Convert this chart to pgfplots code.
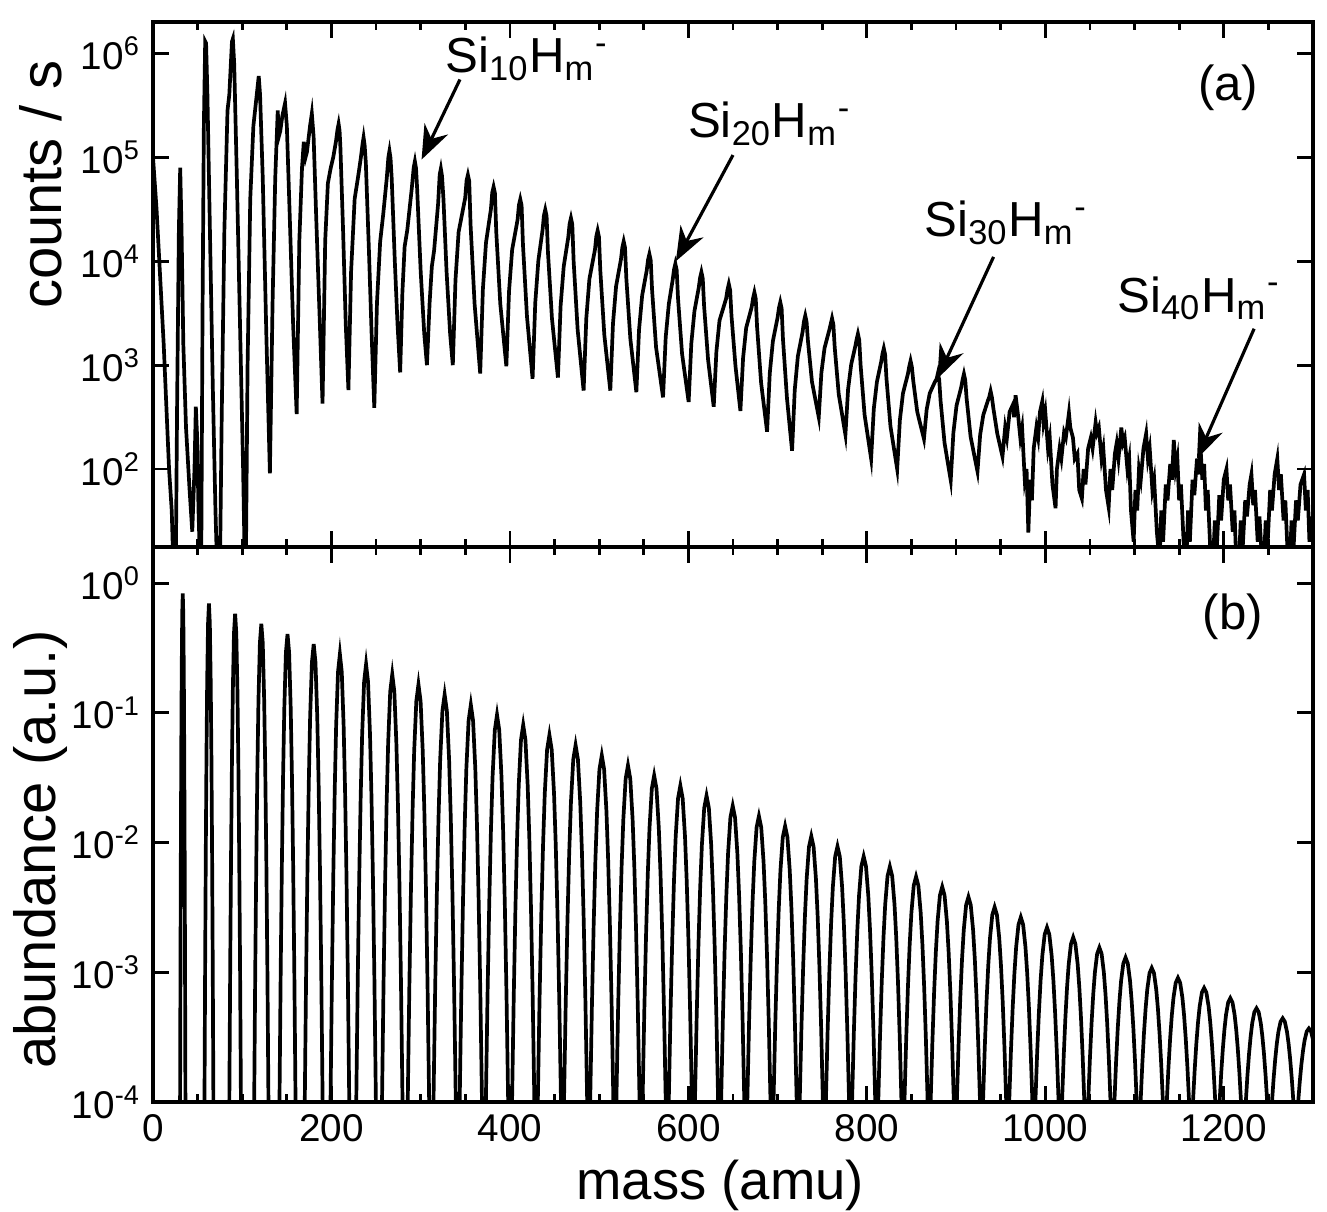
\documentclass[border=0pt]{standalone}
\usepackage{fontspec}
\setmainfont{Liberation Sans}
\usepackage{pgfplots}
\pgfplotsset{compat=1.18}
\usetikzlibrary{arrows.meta}

\begin{document}
\begin{tikzpicture}

% ---------------- (b) abundance ----------------
\begin{axis}[name=bot,
    width=11.6cm, height=5.55cm, scale only axis,
    xmin=0, xmax=1300, ymode=log,
    ymin=1e-4, ymax=1.9,
    axis line style={line width=0.9pt},
    xtick={0,200,...,1200},
    minor xtick={50,100,...,1300},
    tick align=inside,
    major tick length=1.6mm, minor tick length=0.8mm,
    tick style={line width=0.8pt, black},
    minor y tick style={draw=none},
    tick label style={font=\fontsize{11}{13}\selectfont},
    ytick={1e-4,1e-3,1e-2,1e-1,1},
    yticklabels={10\textsuperscript{-4},10\textsuperscript{-3},10\textsuperscript{-2},10\textsuperscript{-1},10\textsuperscript{0}},
    xticklabels={0,200,400,600,800,1000,1200},
    xlabel={mass (amu)},
    xlabel style={at={(rel axis cs:0.489,-0.15)}, anchor=center, font=\fontsize{15.5}{18}\selectfont},
    ylabel={abundance (a.u.)},
    ylabel style={at={(rel axis cs:-0.097,0.455)}, anchor=center, font=\fontsize{16.5}{19}\selectfont},
]
\addplot[line width=1.05pt] coordinates {
(0,1e-4)
(30.35,1e-4) (30.8,1.22e-3) (31.25,1.0e-2) (31.7,0.0543) (32.15,0.197) (32.75,0.581) (33.35,0.834) (33.95,0.581) (34.55,0.197) (35.0,0.0543) (35.45,1.0e-2) (35.9,1.22e-3) (36.35,1e-4)
(57.7,1e-4) (58.45,1.16e-3) (59.2,9.12e-3) (59.95,0.0479) (60.7,0.169) (61.7,0.489) (62.7,0.697) (63.7,0.489) (64.7,0.169) (65.45,0.0479) (66.2,9.12e-3) (66.95,1.16e-3) (67.7,1e-4)
(85.55,1e-4) (86.53,1.11e-3) (87.5,8.32e-3) (88.48,0.0423) (89.45,0.1455) (90.75,0.411) (92.05,0.582) (93.35,0.411) (94.65,0.1455) (95.63,0.0423) (96.6,8.32e-3) (97.58,1.11e-3) (98.55,1e-4)
(113.4,1e-4) (114.6,1.05e-3) (115.8,7.59e-3) (117.0,0.0373) (118.2,0.125) (119.8,0.347) (121.4,0.486) (123.0,0.347) (124.6,0.125) (125.8,0.0373) (127.0,7.59e-3) (128.2,1.05e-3) (129.4,1e-4)
(141.75,1e-4) (143.1,1.00e-3) (144.45,6.93e-3) (145.8,0.0329) (147.15,0.1076) (148.95,0.292) (150.75,0.406) (152.55,0.292) (154.35,0.1076) (155.7,0.0329) (157.05,6.93e-3) (158.4,1.00e-3) (159.75,1e-4)
(170.1,1e-4) (171.6,9.55e-4) (173.1,6.32e-3) (174.6,0.0290) (176.1,0.0925) (178.1,0.245) (180.1,0.340) (182.1,0.245) (184.1,0.0925) (185.6,0.0290) (187.1,6.32e-3) (188.6,9.55e-4) (190.1,1e-4)
(198.95,1e-4) (200.53,9.08e-4) (202.1,5.77e-3) (203.68,0.0256) (205.25,0.0796) (207.35,0.207) (209.45,0.284) (211.55,0.207) (213.65,0.0796) (215.23,0.0256) (216.8,5.77e-3) (218.38,9.08e-4) (219.95,1e-4)
(227.8,1e-4) (229.45,8.65e-4) (231.1,5.26e-3) (232.75,0.0226) (234.4,0.0684) (236.6,0.174) (238.8,0.237) (241.0,0.174) (243.2,0.0684) (244.85,0.0226) (246.5,5.26e-3) (248.15,8.65e-4) (249.8,1e-4)
(256.65,1e-4) (258.38,8.22e-4) (260.1,4.80e-3) (261.83,0.0200) (263.55,0.0587) (265.85,0.146) (268.15,0.198) (270.45,0.146) (272.75,0.0587) (274.48,0.0200) (276.2,4.80e-3) (277.93,8.22e-4) (279.65,1e-4)
(285.5,1e-4) (287.3,7.82e-4) (289.1,4.39e-3) (290.9,0.0176) (292.7,0.0506) (295.1,0.123) (297.5,0.1656) (299.9,0.123) (302.3,0.0506) (304.1,0.0176) (305.9,4.39e-3) (307.7,7.82e-4) (309.5,1e-4)
(314.35,1e-4) (316.23,7.45e-4) (318.1,4.00e-3) (319.98,0.0155) (321.85,0.0435) (324.35,0.1035) (326.85,0.1384) (329.35,0.1035) (331.85,0.0435) (333.73,0.0155) (335.6,4.00e-3) (337.48,7.45e-4) (339.35,1e-4)
(343.7,1e-4) (345.58,7.08e-4) (347.45,3.65e-3) (349.33,0.0137) (351.2,0.0374) (353.7,0.0871) (356.2,0.1156) (358.7,0.0871) (361.2,0.0374) (363.08,0.0137) (364.95,3.65e-3) (366.83,7.08e-4) (368.7,1e-4)
(373.05,1e-4) (374.93,6.73e-4) (376.8,3.33e-3) (378.68,0.0121) (380.55,0.0321) (383.05,0.0735) (385.55,0.0966) (388.05,0.0735) (390.55,0.0321) (392.43,0.0121) (394.3,3.33e-3) (396.18,6.73e-4) (398.05,1e-4)
(402.4,1e-4) (404.28,6.41e-4) (406.15,3.04e-3) (408.03,0.0107) (409.9,0.0277) (412.4,0.0618) (414.9,0.0807) (417.4,0.0618) (419.9,0.0277) (421.78,0.0107) (423.65,3.04e-3) (425.53,6.41e-4) (427.4,1e-4)
(431.25,1e-4) (433.2,6.10e-4) (435.15,2.77e-3) (437.1,9.40e-3) (439.05,0.0238) (441.65,0.0520) (444.25,0.0675) (446.85,0.0520) (449.45,0.0238) (451.4,9.40e-3) (453.35,2.77e-3) (455.3,6.10e-4) (457.25,1e-4)
(460.6,1e-4) (462.55,5.79e-4) (464.5,2.53e-3) (466.45,8.30e-3) (468.4,0.0205) (471.0,0.0438) (473.6,0.0564) (476.2,0.0438) (478.8,0.0205) (480.75,8.30e-3) (482.7,2.53e-3) (484.65,5.79e-4) (486.6,1e-4)
(489.95,1e-4) (491.9,5.52e-4) (493.85,2.31e-3) (495.8,7.31e-3) (497.75,0.0176) (500.35,0.0368) (502.95,0.0471) (505.55,0.0368) (508.15,0.0176) (510.1,7.31e-3) (512.05,2.31e-3) (514.0,5.52e-4) (515.95,1e-4)
(519.3,1e-4) (521.25,5.25e-4) (523.2,2.10e-3) (525.15,6.46e-3) (527.1,0.0151) (529.7,0.0310) (532.3,0.0394) (534.9,0.0310) (537.5,0.0151) (539.45,6.46e-3) (541.4,2.10e-3) (543.35,5.25e-4) (545.3,1e-4)
(548.65,1e-4) (550.6,4.99e-4) (552.55,1.92e-3) (554.5,5.70e-3) (556.45,0.0130) (559.05,0.0261) (561.65,0.0329) (564.25,0.0261) (566.85,0.0130) (568.8,5.70e-3) (570.75,1.92e-3) (572.7,4.99e-4) (574.65,1e-4)
(578.0,1e-4) (579.95,4.75e-4) (581.9,1.75e-3) (583.85,5.02e-3) (585.8,0.0112) (588.4,0.0219) (591.0,0.0275) (593.6,0.0219) (596.2,0.0112) (598.15,5.02e-3) (600.1,1.75e-3) (602.05,4.75e-4) (604.0,1e-4)
(607.35,1e-4) (609.3,4.52e-4) (611.25,1.60e-3) (613.2,4.44e-3) (615.15,9.62e-3) (617.75,0.0185) (620.35,0.0230) (622.95,0.0185) (625.55,9.62e-3) (627.5,4.44e-3) (629.45,1.60e-3) (631.4,4.52e-4) (633.35,1e-4)
(636.7,1e-4) (638.65,4.31e-4) (640.6,1.46e-3) (642.55,3.91e-3) (644.5,8.28e-3) (647.1,0.0156) (649.7,0.0192) (652.3,0.0156) (654.9,8.28e-3) (656.85,3.91e-3) (658.8,1.46e-3) (660.75,4.31e-4) (662.7,1e-4)
(666.05,1e-4) (668.0,4.09e-4) (669.95,1.33e-3) (671.9,3.45e-3) (673.85,7.11e-3) (676.45,0.0131) (679.05,0.0160) (681.65,0.0131) (684.25,7.11e-3) (686.2,3.45e-3) (688.15,1.33e-3) (690.1,4.09e-4) (692.05,1e-4)
(695.4,1e-4) (697.35,3.89e-4) (699.3,1.22e-3) (701.25,3.05e-3) (703.2,6.12e-3) (705.8,0.0110) (708.4,0.0134) (711.0,0.0110) (713.6,6.12e-3) (715.55,3.05e-3) (717.5,1.22e-3) (719.45,3.89e-4) (721.4,1e-4)
(724.75,1e-4) (726.7,3.71e-4) (728.65,1.11e-3) (730.6,2.69e-3) (732.55,5.26e-3) (735.15,9.27e-3) (737.75,0.0112) (740.35,9.27e-3) (742.95,5.26e-3) (744.9,2.69e-3) (746.85,1.11e-3) (748.8,3.71e-4) (750.75,1e-4)
(754.1,1e-4) (756.05,3.52e-4) (758.0,1.01e-3) (759.95,2.37e-3) (761.9,4.53e-3) (764.5,7.80e-3) (767.1,9.35e-3) (769.7,7.80e-3) (772.3,4.53e-3) (774.25,2.37e-3) (776.2,1.01e-3) (778.15,3.52e-4) (780.1,1e-4)
(783.45,1e-4) (785.4,3.35e-4) (787.35,9.23e-4) (789.3,2.09e-3) (791.25,3.89e-3) (793.85,6.56e-3) (796.45,7.82e-3) (799.05,6.56e-3) (801.65,3.89e-3) (803.6,2.09e-3) (805.55,9.23e-4) (807.5,3.35e-4) (809.45,1e-4)
(812.8,1e-4) (814.75,3.19e-4) (816.7,8.43e-4) (818.65,1.85e-3) (820.6,3.35e-3) (823.2,5.52e-3) (825.8,6.53e-3) (828.4,5.52e-3) (831.0,3.35e-3) (832.95,1.85e-3) (834.9,8.43e-4) (836.85,3.19e-4) (838.8,1e-4)
(842.15,1e-4) (844.1,3.03e-4) (846.05,7.69e-4) (848.0,1.63e-3) (849.95,2.88e-3) (852.55,4.66e-3) (855.15,5.46e-3) (857.75,4.66e-3) (860.35,2.88e-3) (862.3,1.63e-3) (864.25,7.69e-4) (866.2,3.03e-4) (868.15,1e-4)
(871.5,1e-4) (873.45,2.88e-4) (875.4,7.02e-4) (877.35,1.44e-3) (879.3,2.48e-3) (881.9,3.92e-3) (884.5,4.56e-3) (887.1,3.92e-3) (889.7,2.48e-3) (891.65,1.44e-3) (893.6,7.02e-4) (895.55,2.88e-4) (897.5,1e-4)
(900.85,1e-4) (902.8,2.75e-4) (904.75,6.40e-4) (906.7,1.27e-3) (908.65,2.13e-3) (911.25,3.30e-3) (913.85,3.81e-3) (916.45,3.30e-3) (919.05,2.13e-3) (921.0,1.27e-3) (922.95,6.40e-4) (924.9,2.75e-4) (926.85,1e-4)
(930.2,1e-4) (932.15,2.61e-4) (934.1,5.85e-4) (936.05,1.12e-3) (938.0,1.83e-3) (940.6,2.77e-3) (943.2,3.18e-3) (945.8,2.77e-3) (948.4,1.83e-3) (950.35,1.12e-3) (952.3,5.85e-4) (954.25,2.61e-4) (956.2,1e-4)
(959.55,1e-4) (961.5,2.48e-4) (963.45,5.33e-4) (965.4,9.86e-4) (967.35,1.57e-3) (969.95,2.33e-3) (972.55,2.66e-3) (975.15,2.33e-3) (977.75,1.57e-3) (979.7,9.86e-4) (981.65,5.33e-4) (983.6,2.48e-4) (985.55,1e-4)
(988.9,1e-4) (990.85,2.37e-4) (992.8,4.86e-4) (994.75,8.71e-4) (996.7,1.35e-3) (999.3,1.96e-3) (1001.9,2.22e-3) (1004.5,1.96e-3) (1007.1,1.35e-3) (1009.05,8.71e-4) (1011.0,4.86e-4) (1012.95,2.37e-4) (1014.9,1e-4)
(1018.75,1e-4) (1020.63,2.25e-4) (1022.5,4.44e-4) (1024.38,7.67e-4) (1026.25,1.16e-3) (1028.75,1.65e-3) (1031.25,1.86e-3) (1033.75,1.65e-3) (1036.25,1.16e-3) (1038.13,7.67e-4) (1040.0,4.44e-4) (1041.88,2.25e-4) (1043.75,1e-4)
(1048.1,1e-4) (1049.98,2.14e-4) (1051.85,4.05e-4) (1053.73,6.78e-4) (1055.6,1.00e-3) (1058.1,1.39e-3) (1060.6,1.55e-3) (1063.1,1.39e-3) (1065.6,1.00e-3) (1067.48,6.78e-4) (1069.35,4.05e-4) (1071.23,2.14e-4) (1073.1,1e-4)
(1077.45,1e-4) (1079.33,2.04e-4) (1081.2,3.70e-4) (1083.08,5.97e-4) (1084.95,8.61e-4) (1087.45,1.17e-3) (1089.95,1.30e-3) (1092.45,1.17e-3) (1094.95,8.61e-4) (1096.83,5.97e-4) (1098.7,3.70e-4) (1100.58,2.04e-4) (1102.45,1e-4)
(1106.8,1e-4) (1108.68,1.94e-4) (1110.55,3.37e-4) (1112.43,5.27e-4) (1114.3,7.40e-4) (1116.8,9.86e-4) (1119.3,1.08e-3) (1121.8,9.86e-4) (1124.3,7.40e-4) (1126.18,5.27e-4) (1128.05,3.37e-4) (1129.93,1.94e-4) (1131.8,1e-4)
(1136.15,1e-4) (1138.03,1.85e-4) (1139.9,3.08e-4) (1141.78,4.66e-4) (1143.65,6.37e-4) (1146.15,8.30e-4) (1148.65,9.06e-4) (1151.15,8.30e-4) (1153.65,6.37e-4) (1155.53,4.66e-4) (1157.4,3.08e-4) (1159.28,1.85e-4) (1161.15,1e-4)
(1165.5,1e-4) (1167.38,1.75e-4) (1169.25,2.81e-4) (1171.13,4.10e-4) (1173.0,5.47e-4) (1175.5,6.98e-4) (1178.0,7.57e-4) (1180.5,6.98e-4) (1183.0,5.47e-4) (1184.88,4.10e-4) (1186.75,2.81e-4) (1188.63,1.75e-4) (1190.5,1e-4)
(1195.35,1e-4) (1197.15,1.67e-4) (1198.95,2.56e-4) (1200.75,3.62e-4) (1202.55,4.71e-4) (1204.95,5.87e-4) (1207.35,6.32e-4) (1209.75,5.87e-4) (1212.15,4.71e-4) (1213.95,3.62e-4) (1215.75,2.56e-4) (1217.55,1.67e-4) (1219.35,1e-4)
(1224.7,1e-4) (1226.5,1.59e-4) (1228.3,2.34e-4) (1230.1,3.19e-4) (1231.9,4.05e-4) (1234.3,4.94e-4) (1236.7,5.28e-4) (1239.1,4.94e-4) (1241.5,4.05e-4) (1243.3,3.19e-4) (1245.1,2.34e-4) (1246.9,1.59e-4) (1248.7,1e-4)
(1254.05,1e-4) (1255.85,1.51e-4) (1257.65,2.13e-4) (1259.45,2.82e-4) (1261.25,3.48e-4) (1263.65,4.16e-4) (1266.05,4.42e-4) (1268.45,4.16e-4) (1270.85,3.48e-4) (1272.65,2.82e-4) (1274.45,2.13e-4) (1276.25,1.51e-4) (1278.05,1e-4)
(1283.4,1e-4) (1285.2,1.44e-4) (1287.0,1.95e-4) (1288.8,2.48e-4) (1290.6,2.99e-4) (1293.0,3.50e-4) (1295.4,3.69e-4) (1297.8,3.50e-4) (1300.2,2.99e-4) (1302.0,2.48e-4) (1303.8,1.95e-4) (1305.6,1.44e-4) (1307.4,1e-4)
};
\node[font=\fontsize{14}{16}\selectfont] at (rel axis cs:0.931,0.875) {(b)};
\end{axis}

% ---------------- (a) counts / s ----------------
\begin{axis}[name=top,
    at={(0,5.55cm)}, anchor=south west,
    width=11.6cm, height=5.25cm, scale only axis,
    xmin=0, xmax=1300, ymode=log,
    ymin=17.8, ymax=2.0e6,
    axis line style={line width=0.9pt},
    xtick={0,200,...,1200},
    minor xtick={50,100,...,1300},
    tick align=inside,
    major tick length=1.6mm, minor tick length=0.8mm,
    tick style={line width=0.8pt, black},
    minor y tick style={draw=none},
    tick label style={font=\fontsize{11}{13}\selectfont},
    ytick={1e2,1e3,1e4,1e5,1e6},
    yticklabels={10\textsuperscript{2},10\textsuperscript{3},10\textsuperscript{4},10\textsuperscript{5},10\textsuperscript{6}},
    xticklabels={},
    ylabel={counts / s},
    ylabel style={at={(rel axis cs:-0.097,0.69)}, anchor=center, font=\fontsize{16.5}{19}\selectfont},
]
\addplot[line width=1.05pt] coordinates {
(0,1.0e5) (4,3.16e4) (12,1.58e3) (18,100) (21,39.8) (23,10) (25.5,10) (27,398)
(29,2.0e4) (30.5,7.94e4) (32,2.0e4) (34,1.58e3) (37,251) (41,63) (44,25) (46.5,100)
(48,398) (49.5,200) (51,40) (53,10) (54,10) (55.5,3.16e3) (57,2.0e5) (58.5,1.3e6)
(59.5,1.25e6) (61,3.98e5) (64,1.58e4) (67,631) (70,40) (72,10) (75,10) (77,316)
(80,2.0e4) (83.5,2.82e5) (85.5,3.98e5) (88.5,1.3e6) (89.5,1.38e6) (91,7.94e5) (94,6.31e4)
(98,1.58e3) (101,100) (103,10) (104,10) (106,1.0e3) (109,3.98e4) (112.5,2.0e5) (115,3.16e5)
(118.5,6.03e5) (120,3.98e5) (123,6.31e4) (127,2.0e3) (131,91) (134,3.98e3) (137,6.31e4)
(139.8,2.82e5) (141,1.58e5) (142.6,1.78e5) (145,2.51e5) (148,3.31e5) (150,2.0e5) (153,3.16e4)
(157,2.51e3) (161,339) (164,1.58e4) (167,7.94e4) (169,1.41e5) (171,1.0e5) (172.5,1.12e5)
(176,2.0e5) (178,2.63e5) (180,1.58e5) (183,2.51e4) (187,2.51e3) (190,427) (193,1.58e4)
(196,5.62e4) (199,7.76e4) (202,1.0e5) (205,1.41e5) (206.8,1.85e5) (208,2.09e5) (209.1,1.8e5) (210,1.26e5) (213,2.0e4)
(216,2.51e3) (219,575) (222,7.94e3) (226,3.98e4) (230,6.61e4) (233,1.0e5) (234.8,1.33e5) (236,1.55e5) (237.2,1.3e5)
(238.5,8.91e4) (242,1.26e4) (245,2.0e3) (248,389) (251,3.98e3) (254.6,1.55e4) (258,2.82e4)
(262,6.31e4) (263.8,1.0e5) (265,1.15e5) (266.2,9.8e4) (267.5,6.31e4) (271,1.0e4) (274,2.51e3) (277,851) (279.5,5.01e3)
(282,1.38e4) (285,2.0e4) (290,5.01e4) (292.2,8.0e4) (293.5,9.12e4) (294.8,7.8e4) (296,5.01e4) (300,7.94e3) (304,2.0e3)
(307,1.0e3) (310,3.98e3) (312.5,8.91e3) (315,1.26e4) (319.5,3.55e4) (321.3,6.8e4) (322.6,7.76e4) (323.9,6.6e4)
(325.5,3.98e4) (329,7.94e3) (333,2.0e3) (336,1.0e3)
(339,6.61e3) (342.5,1.91e4) (349.9,4.07e4) (351.4,5.95e4) (352.9,6.76e4) (354.4,5.88e4) (355.9,2.24e4) (360.4,3.89e3) (366.7,832)
(369.7,5.37e3) (373.2,1.51e4) (378.7,3.16e4) (380.2,4.57e4) (381.7,5.19e4) (383.2,4.52e4) (384.7,1.91e4) (389.2,3.89e3) (396,977)
(399,5.13e3) (402.5,1.29e4) (408.6,2.51e4) (410.1,3.47e4) (411.6,3.94e4) (413.1,3.43e4) (414.6,1.45e4) (419.1,2.95e3) (425.4,741)
(428.4,3.98e3) (431.9,1.02e4) (436.6,2.0e4) (438.1,2.75e4) (439.6,3.13e4) (441.1,2.72e4) (442.6,1.23e4) (447.1,2.82e3) (453.8,759)
(456.8,3.72e3) (460.3,8.91e3) (465.4,1.70e4) (466.9,2.29e4) (468.4,2.60e4) (469.9,2.26e4) (471.4,1.0e4) (475.9,2.19e3) (482.6,569)
(485.6,2.82e3) (489.1,6.76e3) (495.3,1.29e4) (496.8,1.73e4) (498.3,1.97e4) (499.8,1.71e4) (501.3,8.13e3) (505.8,1.95e3) (512.5,569)
(515.5,2.51e3) (519,5.75e3) (524.5,1.05e4) (526,1.36e4) (527.5,1.55e4) (529,1.35e4) (530.5,6.76e3) (535,1.78e3) (541.7,550)
(544.7,2.19e3) (548.2,4.68e3) (553.3,8.13e3) (554.8,1.03e4) (556.3,1.17e4) (557.8,1.02e4) (559.3,5.31e3) (563.8,1.48e3) (571.6,490)
(574.6,1.86e3) (578.1,3.89e3) (582.4,6.61e3) (583.9,8.31e3) (585.4,9.44e3) (586.9,8.21e3) (588.4,4.37e3) (592.9,1.29e3) (600.3,442)
(603.3,1.62e3) (606.8,3.31e3) (611.6,5.56e3) (613.1,6.91e3) (614.6,7.85e3) (616.1,6.83e3) (617.6,3.72e3) (622.1,1.12e3) (628.4,398)
(631.4,1.35e3) (634.9,2.69e3) (642.3,4.37e3) (643.8,5.31e3) (645.3,6.03e3) (646.8,5.25e3) (648.3,2.99e3) (652.8,977) (658.3,363)
(661.3,1.17e3) (664.8,2.29e3) (671,3.63e3) (672.5,4.41e3) (674,5.01e3) (675.5,4.36e3) (677,2.32e3) (681.5,676) (688.2,229)
(691.2,832) (694.7,1.70e3) (700,2.88e3) (701.5,3.55e3) (703,4.03e3) (704.5,3.51e3) (706,1.78e3) (710.5,479) (716.2,150)
(719.2,575) (722.7,1.22e3) (728,2.09e3) (729.5,2.63e3) (731,2.99e3) (732.5,2.60e3) (734,1.70e3) (738.5,692) (746.1,316)
(749.1,851) (752.6,1.46e3) (758,2.19e3) (759.5,2.48e3) (761,2.82e3) (762.5,2.45e3) (764,1.48e3) (768.5,525) (776,214)
(779,589) (782.5,1.02e3) (787,1.51e3) (788.5,1.76e3) (790,2.0e3) (791.5,1.74e3) (793,1.0e3) (797.5,331) (804.8,126)
(807.8,380) (811.3,692) (816,1.07e3) (817.5,1.28e3) (819,1.45e3) (820.5,1.26e3) (822,741) (826.5,257) (834,100)
(837,295) (840.5,537) (846,822) (847.5,968) (849,1.10e3) (850.5,957) (852,708) (856.5,355) (864,195)
(867,372) (870.5,537) (876.6,700) (878.1,732) (879.6,832) (881.1,724) (882.6,457) (887.1,178) (894,78)
(897,224) (900.5,407) (905.8,617) (907.3,723) (908.8,822) (910.3,715) (911.8,479) (916.3,204) (924,95)
(927,214) (930.5,331) (935.7,457) (937.2,495) (938.7,562) (940.2,489) (941.7,389) (946.2,219) (952,132)
(955,251) (957,200) (960,355) (963.7,417) (965,316) (966.7,513) (969.7,316) (972,200)
(974,251) (977,79) (979,100) (981,24.5) (983,79) (985,50) (987,158) (990,251) (992,200)
(994,355) (996.6,447) (998,282) (1000,355) (1003,158) (1005,200) (1008,71) (1011.5,42)
(1013,100) (1016,158) (1018,126) (1021,224) (1023,200) (1026.5,347) (1028,251) (1031,200)
(1033,126) (1036,141) (1038,63) (1041,52) (1043,100) (1045,71) (1048,158) (1051,200)
(1053,158) (1056.4,282) (1058,224) (1060,251) (1063,126) (1065,158) (1068,63) (1071,43)
(1073,100) (1075,63) (1078,141) (1080,178) (1082,126) (1085.2,251) (1087,178) (1089,200)
(1092,100) (1094,126) (1096,40) (1099,20) (1101,63) (1103,40) (1105,100) (1107,79)
(1110,158) (1113,219) (1115,126) (1117,158) (1120,63) (1122,79) (1125,25) (1128,12.6)
(1130,40) (1132,20) (1135,71) (1137,50) (1140,112) (1142,79) (1144,191) (1146,100)
(1148,126) (1150,50) (1152,71) (1155,20) (1158,12.6) (1160,40) (1162,20) (1165,79)
(1167,56) (1170,126) (1172,89) (1174,158) (1176,79) (1178,112) (1180,40) (1182,63)
(1185,16) (1188,12.6) (1190,32) (1192,16) (1195,56) (1197,32) (1200,79) (1203,100)
(1205,50) (1207,71) (1210,25) (1212,40) (1214,12.6) (1217,12.6) (1219,32) (1221,16)
(1224,50) (1226,35) (1229,71) (1231,89) (1233,45) (1235,63) (1238,20) (1240,35)
(1243,12.6) (1245,12.6) (1247,32) (1249,18) (1252,63) (1254,40) (1257,89) (1260,126)
(1262,63) (1264,89) (1267,32) (1269,50) (1272,12.6) (1274,12.6) (1276,32) (1278,16)
(1281,50) (1283,32) (1286,71) (1290,89) (1292,40) (1294,63) (1296,20) (1298,35) (1300,25)
};
\node[font=\fontsize{14}{16}\selectfont] at (rel axis cs:0.927,0.875) {(a)};
\node[font=\fontsize{14}{16}\selectfont] at (axis cs:419,8.9e5) {Si\textsubscript{10}H\textsubscript{m}\textsuperscript{-}};
\draw[line width=0.9pt,-{Stealth[length=3.4mm,width=2.6mm]}] (axis cs:344,5.6e5) -- (axis cs:301,9.5e4);
\node[font=\fontsize{14}{16}\selectfont] at (axis cs:691,2.1e5) {Si\textsubscript{20}H\textsubscript{m}\textsuperscript{-}};
\draw[line width=0.9pt,-{Stealth[length=3.4mm,width=2.6mm]}] (axis cs:650,1.05e5) -- (axis cs:586,1.0e4);
\node[font=\fontsize{14}{16}\selectfont] at (axis cs:956,2.34e4) {Si\textsubscript{30}H\textsubscript{m}\textsuperscript{-}};
\draw[line width=0.9pt,-{Stealth[length=3.4mm,width=2.6mm]}] (axis cs:942,1.1e4) -- (axis cs:879,740);
\node[font=\fontsize{14}{16}\selectfont] at (axis cs:1172,4.4e3) {Si\textsubscript{40}H\textsubscript{m}\textsuperscript{-}};
\draw[line width=0.9pt,-{Stealth[length=3.4mm,width=2.6mm]}] (axis cs:1234,2.24e3) -- (axis cs:1170,126);
\end{axis}

\pgfresetboundingbox
\path[use as bounding box] (-1.53cm,-1.09cm) rectangle (11.74cm,11.02cm);
\end{tikzpicture}
\end{document}
